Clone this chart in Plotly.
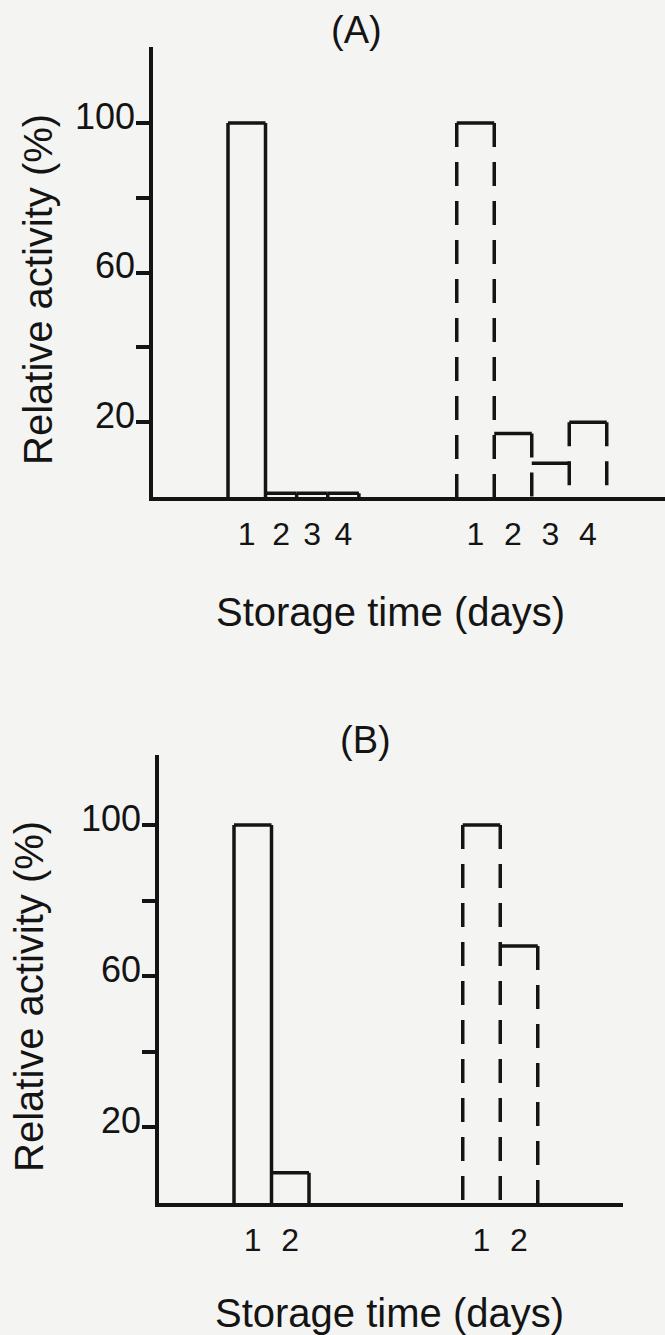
import plotly.graph_objects as go

# ---- data -------------------------------------------------------------
days_a = ["1", "2", "3", "4"]
solid_a = [100, 1, 1, 1]          # Relative activity (%), solid-outline series
dashed_a = [100, 17, 9, 20]       # Relative activity (%), dashed-outline series

days_b = ["1", "2"]
solid_b = [100, 8]
dashed_b = [100, 68]

y_tickvals = [20, 40, 60, 80, 100]
y_ticktext = ["20", "", "60", "", "100"]

# ---- layout constants ---------------------------------------------------
W, H = 665, 1335
INK = "#141414"
BG = "#f4f4f2"
FONT = "Liberation Sans, Arial, sans-serif"
LW = 3.5
DASH = "24px,15px"
PX_PER_UNIT = 37.5                # one bar slot in pixels

SOLID_START, DASHED_START = 2.0, 8.1


def lefts_rights(start, widths):
    lefts, rights, x = [], [], start
    for w in widths:
        lefts.append(x)
        x += w
        rights.append(x)
    return lefts, rights


def outline(values, lefts, rights):
    """Vertical edges (each from the taller neighbour down to 0) and bar tops."""
    n = len(values)
    ex, ey = [], []
    for i in range(n + 1):
        x = lefts[i] if i < n else rights[-1]
        top = max(values[i - 1] if i > 0 else 0, values[i] if i < n else 0)
        ex += [x, x, None]
        ey += [top, 0, None]
    tx, ty = [], []
    for v, l, r in zip(values, lefts, rights):
        tx += [l, r, None]
        ty += [v, v, None]
    return (ex, ey), (tx, ty)


fig = go.Figure()


def add_panel(idx, days, solid, dashed, solid_widths, xdom, ydom, xmax, ymax):
    xa = "x" if idx == 1 else f"x{idx}"
    ya = "y" if idx == 1 else f"y{idx}"

    # solid-outline bars
    sl, sr = lefts_rights(SOLID_START, solid_widths)
    (ex, ey), (tx, ty) = outline(solid, sl, sr)
    fig.add_trace(go.Scatter(x=ex, y=ey, xaxis=xa, yaxis=ya, mode="lines",
                             line=dict(color=INK, width=LW), hoverinfo="skip",
                             showlegend=False))
    fig.add_trace(go.Scatter(x=tx, y=ty, xaxis=xa, yaxis=ya, mode="lines",
                             line=dict(color=INK, width=LW), hoverinfo="skip",
                             showlegend=False))

    # dashed-outline bars (dashed sides, solid tops)
    dl, dr = lefts_rights(DASHED_START, [1.0] * len(dashed))
    (ex, ey), (tx, ty) = outline(dashed, dl, dr)
    fig.add_trace(go.Scatter(x=ex, y=ey, xaxis=xa, yaxis=ya, mode="lines",
                             line=dict(color=INK, width=LW, dash=DASH),
                             hoverinfo="skip", showlegend=False))
    fig.add_trace(go.Scatter(x=tx, y=ty, xaxis=xa, yaxis=ya, mode="lines",
                             line=dict(color=INK, width=LW), hoverinfo="skip",
                             showlegend=False))

    centers = [(l + r) / 2 for l, r in zip(sl, sr)] + [(l + r) / 2 for l, r in zip(dl, dr)]
    labels = list(days) + list(days)

    xkey = "xaxis" if idx == 1 else f"xaxis{idx}"
    ykey = "yaxis" if idx == 1 else f"yaxis{idx}"
    fig.update_layout({
        xkey: dict(domain=xdom, range=[0, xmax], anchor=ya,
                   showline=True, linewidth=LW, linecolor=INK,
                   showgrid=False, zeroline=False, ticks="",
                   tickvals=centers, ticktext=labels,
                   tickfont=dict(family=FONT, size=32, color=INK),
                   ticklabelstandoff=6),
        ykey: dict(domain=ydom, range=[0, ymax], anchor=xa,
                   showline=True, linewidth=LW, linecolor=INK,
                   showgrid=False, zeroline=False,
                   ticks="outside", ticklen=13, tickwidth=LW, tickcolor=INK,
                   tickvals=y_tickvals, ticktext=y_ticktext,
                   tickfont=dict(family=FONT, size=36, color=INK),
                   ticklabelshift=-7, ticklabelstandoff=-6),
    })


# panel A
add_panel(1, days_a, solid_a, dashed_a, [1.0, 0.83, 0.83, 0.83],
          [153 / W, 1.0], [1 - 497 / H, 1 - 47 / H],
          (W - 153) / PX_PER_UNIT, 120.3)
# panel B
add_panel(2, days_b, solid_b, dashed_b, [1.0, 1.0],
          [159 / W, 623 / W], [1 - 1203 / H, 1 - 755 / H],
          (623 - 159) / PX_PER_UNIT, 118.5)


def text(x, y, s, size, angle=0):
    fig.add_annotation(x=x / W, y=1 - y / H, xref="paper", yref="paper",
                       text=s, showarrow=False, textangle=angle,
                       xanchor="center", yanchor="middle",
                       font=dict(family=FONT, size=size, color=INK))


text(356, 30, "(A)", 38)
text(38, 290, "Relative activity (%)", 40, -90)
text(391, 612, "Storage time (days)", 40)

text(365, 740, "(B)", 38)
text(29, 997, "Relative activity (%)", 40, -90)
text(389, 1313, "Storage time (days)", 40)

fig.update_layout(width=W, height=H, margin=dict(l=0, r=0, t=0, b=0),
                  paper_bgcolor=BG, plot_bgcolor=BG, showlegend=False)

fig.write_html("out.html")
